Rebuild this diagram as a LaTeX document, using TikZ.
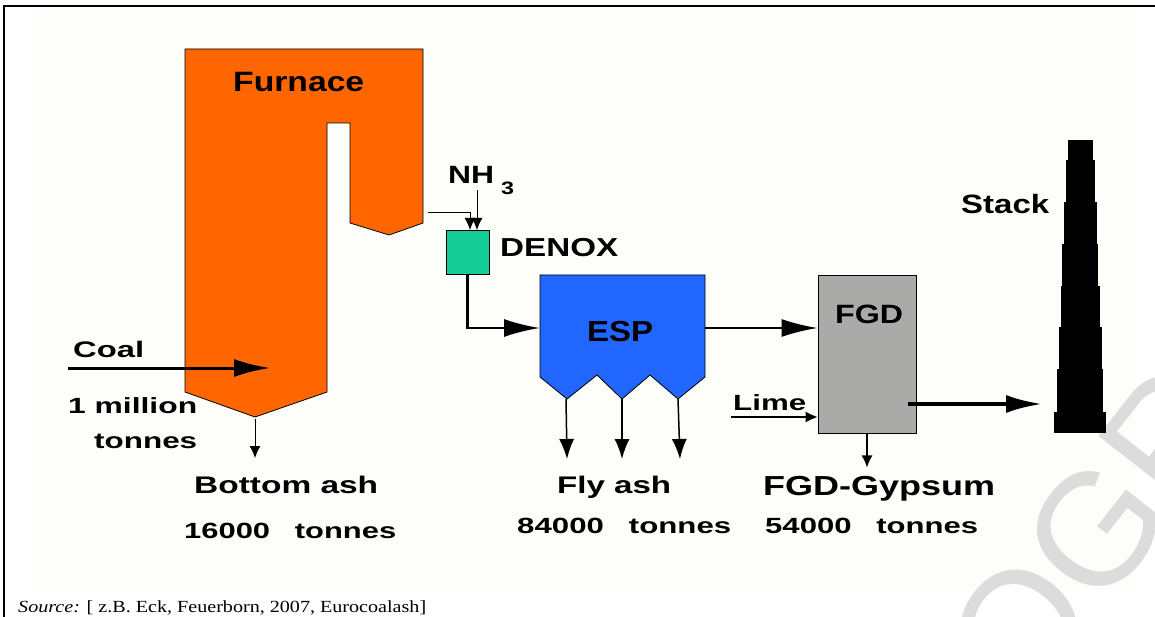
\documentclass[tikz,border=0pt]{standalone}
\usepackage{fontspec}
\setmainfont{Liberation Sans}
\newfontfamily\srcfont{Liberation Serif}
\usetikzlibrary{arrows.meta}
\newcommand\tw[3]{\resizebox{#2pt}{\height}{\fontsize{#1pt}{#1pt}\selectfont #3}}
\definecolor{furn}{RGB}{255,102,0}
\definecolor{denoxc}{RGB}{22,204,150}
\definecolor{espc}{RGB}{32,102,255}
\definecolor{fgdc}{RGB}{170,170,168}
\definecolor{bgc}{RGB}{253,253,250}
\definecolor{wm}{RGB}{220,220,220}
\begin{document}
\begin{tikzpicture}[x=1pt,y=-1pt,
  lbl/.style={inner sep=0pt, anchor=base west, font=\bfseries},
  bigarrow/.style={-{Latex[length=36pt,width=18pt]}},
  smallarrow/.style={-{Latex[length=12pt,width=11pt]}},
  medarrow/.style={-{Latex[length=20pt,width=15pt]}},
  unit/.style={draw=black, line width=0.8pt, inner sep=0pt}]
\useasboundingbox (0,0) rectangle (1155,617);
\fill[white] (0,0) rectangle (1155,617);
\fill[bgc] (35,8) rectangle (1136,590);
% watermark
\begin{scope}
\clip (0,0) rectangle (1155,617);
\node[rotate=52, inner sep=0pt, text=wm, font=\fontsize{160pt}{160pt}\selectfont] (wmark) at (1093,533) {OGR};
\end{scope}
% frame
\draw[line width=1.2pt] (4,617) -- (4,6) -- (1155,6);
\draw[line width=2.2pt] (4,6) -- (35,6);
\draw[line width=2.2pt] (1136,6) -- (1155,6);

% furnace
\draw[fill=furn, line width=0.8pt] (185,49) -- (423,49) -- (423,223) -- (389,235) -- (350,223) -- (350,123) -- (327,123) -- (327,392) -- (255,417) -- (185,392) -- cycle;
\coordinate (fout) at (428,213);
\coordinate (fbot) at (255,419);
\coordinate (coalin) at (68,368);
\coordinate (coalend) at (270,368);

% DENOX
\node[unit, fill=denoxc, minimum width=43pt, minimum height=44pt] (denox) at (467.5,252) {};
\coordinate (nhtop) at (477,190);

% ESP
\draw[fill=espc, line width=0.8pt] (540,275) -- (705,275) -- (705,377) -- (678,399) -- (650,375) -- (622,399) -- (597,375) -- (567,399) -- (540,377) -- cycle;
\coordinate (espin) at (540,328);
\coordinate (espout) at (705,328);
\coordinate (v1) at (566,399);
\coordinate (v2) at (622,399);
\coordinate (v3) at (678,399);

% FGD
\node[unit, fill=fgdc, minimum width=98pt, minimum height=158pt] (fgd) at (867,354) {};
\coordinate (fgdout) at (908,404);
\coordinate (limein) at (731,417);

% Stack
\fill (1068,140) rectangle (1093,161);
\fill (1066,160) rectangle (1095,203);
\fill (1064,202) rectangle (1097,245);
\fill (1062,244) rectangle (1098,287);
\fill (1061,286) rectangle (1100,328);
\fill (1059,327) rectangle (1102,370);
\fill (1057,369) rectangle (1103,413);
\fill (1054,412) rectangle (1106,433);
\coordinate (stackin) at (1042,404);

% connectors
\draw[line width=3pt, bigarrow] (coalin) -- (coalend);
\draw[line width=1pt, smallarrow] (fbot) -- ++(0,39);
\draw[line width=1pt, smallarrow] (fout) -| (470,230);
\draw[line width=1pt, smallarrow] (nhtop) -- (477,230);
\draw[line width=2.5pt, bigarrow] (denox.south) |- (espin);
\draw[line width=2.2pt, bigarrow] (espout) -- (fgd.west |- espout);
\draw[line width=1.5pt, medarrow] (v1) -- ++(1,60);
\draw[line width=1.5pt, medarrow] (v2) -- ++(0,60);
\draw[line width=1.5pt, medarrow] (v3) -- ++(2,60);
\draw[line width=1.2pt, smallarrow] (limein) -- (fgd.west |- limein);
\draw[line width=1.2pt, smallarrow] (fgd.south) -- ++(0,34);
\draw[line width=4pt, bigarrow] (fgdout) -- (stackin);

% labels
\node[lbl] (tfurn) at (233,92) {\tw{28}{131}{Furnace}};
\node[lbl] (tnh) at (448,184) {\tw{25}{46}{NH}};
\node[lbl] (tnh3) at (501,195) {\tw{18}{13}{3}};
\node[lbl] (tdenox) at (500,257) {\tw{26}{118}{DENOX}};
\node[lbl] (tesp) at (587,341) {\tw{29}{66}{ESP}};
\node[lbl] (tfgd) at (835,323) {\tw{26.5}{68}{FGD}};
\node[lbl] (tstack) at (961,214) {\tw{26.5}{88}{Stack}};
\node[lbl] (tcoal) at (73,357) {\tw{22.5}{71}{Coal}};
\node[lbl] (tmil) at (68,413) {\tw{22}{129}{1 million}};
\node[lbl] (tton) at (94,448) {\tw{22}{103}{tonnes}};
\node[lbl] (tbot) at (194,493) {\tw{24}{184}{Bottom ash}};
\node[lbl] (tbotn) at (184,538) {\tw{22}{212}{16000\hspace{0.8em}tonnes}};
\node[lbl] (tlime) at (733,410) {\tw{22}{73}{Lime}};
\node[lbl] (tfly) at (557,493) {\tw{24}{114}{Fly ash}};
\node[lbl] (tflyn) at (517,533) {\tw{22}{214}{84000\hspace{0.8em}tonnes}};
\node[lbl] (tgyp) at (763,495) {\tw{27.5}{232}{FGD-Gypsum}};
\node[lbl] (tgypn) at (765,533) {\tw{22}{213}{54000\hspace{0.8em}tonnes}};
\node[inner sep=0pt, anchor=base west, font=\srcfont] (src) at (18,612) {\tw{17}{408}{\textit{Source:} [ z.B. Eck, Feuerborn, 2007, Eurocoalash]}};
\end{tikzpicture}
\end{document}
